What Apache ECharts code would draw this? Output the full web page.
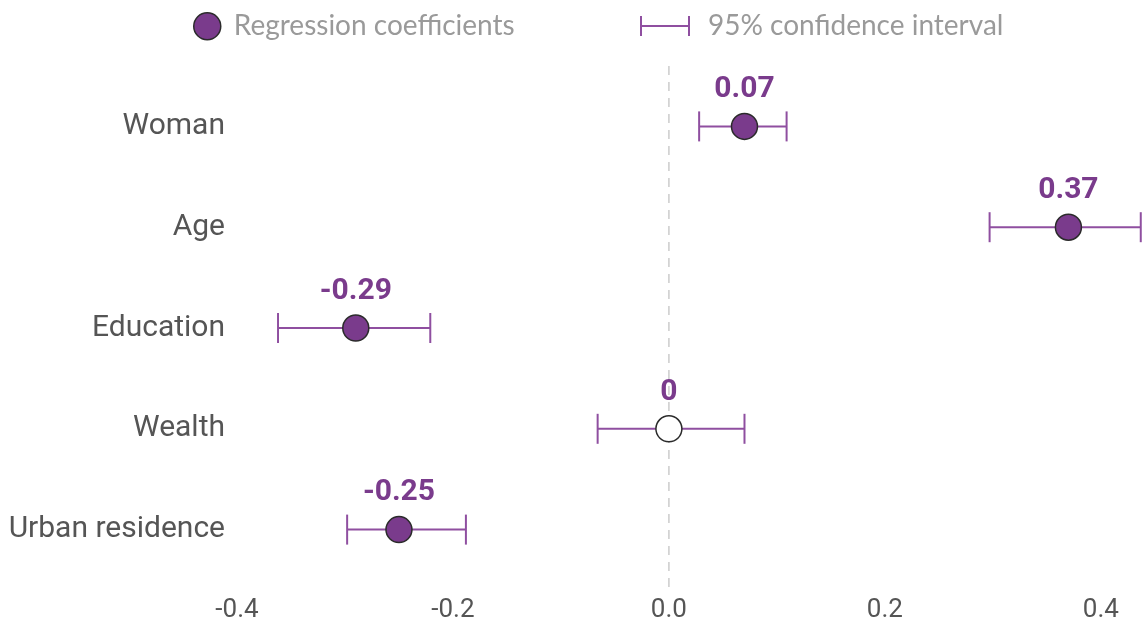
<!DOCTYPE html>
<html>
<head>
<meta charset="utf-8">
<script src="https://cdn.jsdelivr.net/npm/echarts@6/dist/echarts.min.js"></script>
<style>html,body{margin:0;padding:0;background:#fff;}#c{width:1145px;height:627px;}</style>
</head>
<body>
<div id="c"></div>
<script>
var categories = ['Woman', 'Age', 'Education', 'Wealth', 'Urban residence'];
var coefficients = [0.07, 0.37, -0.29, 0, -0.25];
var ciLow = [0.028, 0.297, -0.362, -0.066, -0.298];
var ciHigh = [0.109, 0.437, -0.221, 0.070, -0.188];
var xTicks = [-0.4, -0.2, 0.0, 0.2, 0.4];

var PURPLE = '#7a3b8c';
var CI = '#8f4fa0';

var chart = echarts.init(document.getElementById('c'), null, {renderer: 'canvas'});

var pointData = coefficients.map(function (v, i) {
  var d = {value: [v, categories[i]]};
  if (v === 0) d.itemStyle = {color: '#ffffff'};
  return d;
});
var ciData = categories.map(function (c, i) { return [ciLow[i], ciHigh[i], c]; });

chart.setOption({
  animation: false,
  textStyle: {fontFamily: 'Roboto'},
  legend: [{
    data: [{name: 'Regression coefficients', icon: 'circle'}],
    left: 188, top: 7,
    itemWidth: 27, itemHeight: 27, itemGap: 10,
    itemStyle: {color: PURPLE, borderColor: '#2b2b2b', borderWidth: 1.5},
    textStyle: {fontFamily: 'Lato', fontSize: 28, color: '#9a9a9a', padding: [0, 0, 0, 8]}
  }, {
    data: [{name: '95% confidence interval', icon: 'path://M0,0H2V20H0ZM0,9H50V11H0ZM48,0H50V20H48Z'}],
    left: 635, top: 7,
    itemWidth: 50, itemHeight: 20, itemGap: 10,
    itemStyle: {color: CI, borderWidth: 0},
    textStyle: {fontFamily: 'Lato', fontSize: 28, color: '#9a9a9a', padding: [0, 0, 0, 13]}
  }],
  grid: {left: 237, right: 1, top: 76, bottom: 47, containLabel: false},
  xAxis: {
    type: 'value', min: -0.4, max: 0.44, interval: 0.2,
    axisLine: {show: false}, axisTick: {show: false}, splitLine: {show: false},
    axisLabel: {
      showMaxLabel: false, margin: 17, fontSize: 26, color: '#555',
      formatter: function (v) {
        for (var k = 0; k < xTicks.length; k++) {
          if (Math.abs(xTicks[k] - v) < 1e-9) return xTicks[k].toFixed(1);
        }
        return '';
      }
    }
  },
  yAxis: {
    type: 'category', data: categories, inverse: true,
    axisLine: {show: false}, axisTick: {show: false}, splitLine: {show: false},
    axisLabel: {margin: 12, fontSize: 30, color: '#555'}
  },
  series: [{
    type: 'custom', name: 'zero', silent: true, clip: false, z: 1,
    data: [[0]],
    renderItem: function (params, api) {
      var top = api.coord([0, categories[0]]);
      var bot = api.coord([0, categories[categories.length - 1]]);
      var band = api.size([0, 1])[1];
      return {
        type: 'line',
        shape: {x1: top[0], y1: top[1] - band * 0.6, x2: bot[0], y2: bot[1] + band * 0.64},
        style: {stroke: '#cccccc', lineWidth: 1.5, lineDash: [9, 7]}
      };
    },
    tooltip: {show: false}
  }, {
    type: 'custom', name: '95% confidence interval', z: 2, clip: false,
    itemStyle: {color: CI},
    data: ciData,
    encode: {x: [0, 1], y: 2},
    renderItem: function (params, api) {
      var cat = api.value(2);
      var a = api.coord([api.value(0), cat]);
      var b = api.coord([api.value(1), cat]);
      var h = 15;
      var st = {stroke: CI, lineWidth: 2, fill: null};
      return {
        type: 'group',
        children: [
          {type: 'line', shape: {x1: a[0], y1: a[1], x2: b[0], y2: b[1]}, style: st},
          {type: 'line', shape: {x1: a[0], y1: a[1] - h, x2: a[0], y2: a[1] + h}, style: st},
          {type: 'line', shape: {x1: b[0], y1: b[1] - h, x2: b[0], y2: b[1] + h}, style: st}
        ]
      };
    }
  }, {
    type: 'scatter', name: 'Regression coefficients', z: 3,
    symbol: 'circle', symbolSize: 26,
    itemStyle: {color: PURPLE, borderColor: '#2b2b2b', borderWidth: 1.5, opacity: 1},
    label: {
      show: true, position: 'top', distance: 8,
      fontSize: 30, fontWeight: 'bold', color: PURPLE, fontFamily: 'Roboto',
      formatter: function (p) { return String(p.value[0]); }
    },
    data: pointData
  }]
});
</script>
</body>
</html>
